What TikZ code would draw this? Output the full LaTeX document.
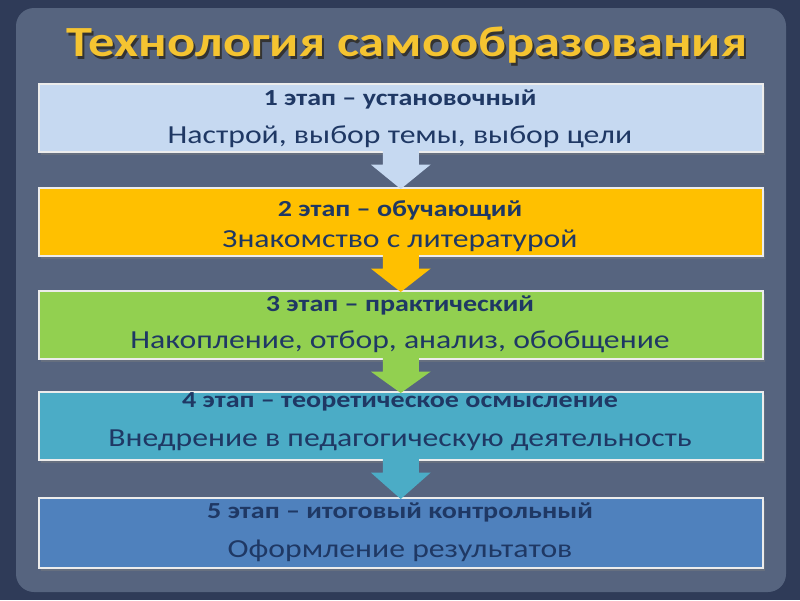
\documentclass[tikz,border=0pt]{standalone}
\usepackage{fontspec}
\setmainfont{Carlito}[FakeStretch=1.22]
\usetikzlibrary{shadows,calc}
\definecolor{bgd}{HTML}{2F3B58}
\definecolor{panel}{HTML}{56647F}
\definecolor{ttl}{HTML}{F5C431}
\definecolor{txt}{HTML}{1F3864}
\definecolor{cA}{HTML}{C6D9F1}
\definecolor{cB}{HTML}{FFC000}
\definecolor{cC}{HTML}{92D050}
\definecolor{cD}{HTML}{4BACC6}
\definecolor{cE}{HTML}{4F81BD}
\begin{document}
\begin{tikzpicture}[x=1pt,y=-1pt,
  stage/.style={draw=white!85!gray,line width=1.5pt,minimum width=724pt,minimum height=68pt,anchor=north west,inner sep=0pt,drop shadow={opacity=0.4,shadow xshift=2pt,shadow yshift=-3pt},text=txt,align=center},
  hd/.style={font=\fontsize{23}{27}\selectfont\bfseries},
  bd/.style={font=\fontsize{26}{30}\selectfont}]
\useasboundingbox (0,0) rectangle (800,600);
\fill[bgd] (0,0) rectangle (800,600);
\fill[panel,rounded corners=18pt] (16,8) rectangle (786,592);
\node[text=black!80,font=\fontsize{43}{48}\selectfont\bfseries] at (409,48) {Технология самообразования};
\node[text=ttl,font=\fontsize{43}{48}\selectfont\bfseries] (title) at (407,45) {Технология самообразования};
\node[stage,fill=cA] (b1) at (38,83) {};
\node[stage,fill=cB] (b2) at (38,187) {};
\node[stage,fill=cC] (b3) at (38,290) {};
\node[stage,fill=cD] (b4) at (38,391) {};
\node[stage,fill=cE,minimum height=70pt] (b5) at (38,497) {};
\foreach \c/\a/\b in {cA/b1/b2,cB/b2/b3,cC/b3/b4,cD/b4/b5}{
  \fill[\c] ($(\a.south)+(-18,-2)$) -- ($(\a.south)+(18,-2)$) -- ($(\a.south)+(18,12)$) -- ($(\a.south)+(30,12)$) -- ($(\b.north)+(0,2)$) -- ($(\a.south)+(-30,12)$) -- ($(\a.south)+(-18,12)$) -- cycle;
}
\node[hd,text=txt] (t1) at (400,99) {1 этап – установочный};
\node[bd,text=txt] (s1) at (400,137) {Настрой, выбор темы, выбор цели};
\node[hd,text=txt] (t2) at (400,210) {2 этап – обучающий};
\node[bd,text=txt] (s2) at (400,241) {Знакомство с литературой};
\node[hd,text=txt] (t3) at (400,305) {3 этап – практический};
\node[bd,text=txt] (s3) at (400,342) {Накопление, отбор, анализ, обобщение};
\node[hd,text=txt] (t4) at (400,402) {4 этап – теоретическое осмысление};
\node[bd,text=txt] (s4) at (400,440) {Внедрение в педагогическую деятельность};
\node[hd,text=txt] (t5) at (400,512) {5 этап – итоговый контрольный};
\node[bd,text=txt] (s5) at (400,551) {Оформление результатов};
\end{tikzpicture}
\end{document}
